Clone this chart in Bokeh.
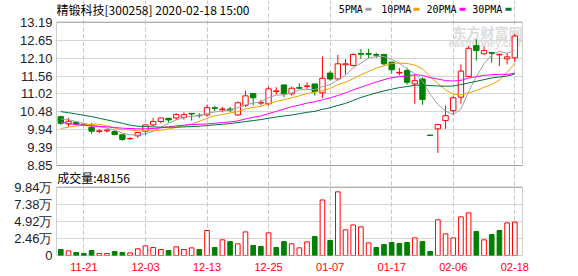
from bokeh.plotting import figure
from bokeh.models import (Range1d, FixedTicker, Label, BoxAnnotation, ColumnDataSource, Grid)
from bokeh.embed import file_html
from bokeh.resources import INLINE

stock_title = "精锻科技[300258] 2020-02-18 15:00"
vol_title = "成交量:48156"
ma_names = ["5PMA", "10PMA", "20PMA", "30PMA"]

dates = ["11-18", "11-19", "11-20", "11-21", "11-22", "11-25", "11-26", "11-27", "11-28", "11-29",
         "12-02", "12-03", "12-04", "12-05", "12-06", "12-09", "12-10", "12-11", "12-12", "12-13",
         "12-16", "12-17", "12-18", "12-19", "12-20", "12-23", "12-24", "12-25", "12-26", "12-27",
         "12-30", "12-31", "01-02", "01-03", "01-06", "01-07", "01-08", "01-09", "01-10", "01-13",
         "01-14", "01-15", "01-16", "01-17", "01-20", "01-21", "01-22", "01-23", "02-03", "02-04",
         "02-05", "02-06", "02-07", "02-10", "02-11", "02-12", "02-13", "02-14", "02-17", "02-18"]
shown_dates = ["11-21", "12-03", "12-13", "12-25", "01-07", "01-17", "02-06", "02-18"]

open_ = [10.33, 10.11, 10.16, 10.10, 10.01, 9.88, 9.90, 9.88, 9.78, 9.66,
         9.75, 9.89, 10.08, 10.18, 10.28, 10.29, 10.31, 10.43, 10.37, 10.38,
         10.60, 10.54, 10.56, 10.38, 10.67, 11.03, 10.74, 10.72, 11.09, 11.29,
         11.02, 11.21, 11.24, 11.32, 11.05, 11.65, 11.47, 11.90, 11.88, 12.24,
         12.24, 12.21, 12.21, 11.98, 11.65, 11.73, 11.32, 11.47, 9.77, 9.96,
         10.21, 10.51, 10.92, 11.55, 12.48, 12.23, 12.27, 12.20, 12.08, 12.11]
close = [10.13, 10.19, 10.11, 10.08, 9.89, 9.90, 9.92, 9.79, 9.64, 9.67,
         9.85, 10.08, 10.18, 10.29, 10.23, 10.39, 10.39, 10.41, 10.36, 10.60,
         10.58, 10.56, 10.53, 10.75, 10.96, 10.90, 10.76, 11.17, 11.11, 11.02,
         11.19, 11.19, 11.26, 11.09, 11.49, 11.47, 11.93, 11.93, 12.21, 12.22,
         12.22, 12.19, 11.93, 11.75, 11.67, 11.37, 11.42, 10.85, 9.76, 10.09,
         10.36, 10.90, 11.71, 12.40, 12.33, 12.33, 12.25, 12.22, 12.14, 12.77]
high = [10.36, 10.29, 10.20, 10.13, 10.14, 9.95, 9.95, 9.91, 9.78, 9.70,
        9.85, 10.10, 10.29, 10.29, 10.28, 10.43, 10.46, 10.43, 10.43, 10.69,
        10.65, 10.62, 10.62, 10.79, 11.12, 11.03, 10.84, 11.24, 11.22, 11.29,
        11.24, 11.34, 11.37, 11.32, 12.15, 11.71, 12.20, 12.07, 12.25, 12.38,
        12.38, 12.26, 12.23, 11.98, 11.80, 11.81, 11.59, 11.52, 9.77, 10.09,
        10.67, 10.97, 11.91, 12.46, 12.67, 12.46, 12.27, 12.22, 12.26, 12.84]
low = [10.08, 10.03, 10.07, 10.05, 9.81, 9.83, 9.85, 9.76, 9.60, 9.63,
       9.69, 9.77, 10.04, 10.13, 10.15, 10.23, 10.24, 10.21, 10.29, 10.33,
       10.50, 10.46, 10.46, 10.36, 10.62, 10.67, 10.67, 10.67, 11.00, 10.92,
       10.97, 11.17, 11.14, 10.97, 10.89, 11.42, 11.42, 11.61, 11.85, 12.08,
       12.10, 12.11, 11.88, 11.63, 11.58, 11.30, 10.72, 10.69, 9.75, 9.23,
       9.96, 10.38, 10.72, 11.55, 12.03, 12.23, 11.96, 11.86, 11.91, 11.98]

ma5 = [10.26, 10.24, 10.18, 10.12, 10.08, 10.03, 9.98, 9.92, 9.83, 9.78,
       9.77, 9.81, 9.88, 10.01, 10.13, 10.23, 10.30, 10.34, 10.36, 10.43,
       10.47, 10.50, 10.53, 10.60, 10.68, 10.74, 10.78, 10.91, 10.98, 10.99,
       11.05, 11.14, 11.15, 11.15, 11.24, 11.30, 11.45, 11.58, 11.81, 11.95,
       12.10, 12.15, 12.15, 12.06, 11.95, 11.78, 11.63, 11.41, 11.01, 10.70,
       10.50, 10.39, 10.56, 11.09, 11.54, 11.93, 12.20, 12.31, 12.25, 12.34]
ma10 = [9.97, 10.01, 10.05, 10.08, 10.10, 10.10, 10.05, 9.98, 9.93, 9.93,
        9.90, 9.90, 9.90, 9.92, 9.96, 10.00, 10.06, 10.11, 10.19, 10.28,
        10.35, 10.40, 10.44, 10.48, 10.56, 10.61, 10.64, 10.72, 10.79, 10.84,
        10.90, 10.96, 11.03, 11.07, 11.12, 11.18, 11.30, 11.37, 11.48, 11.60,
        11.70, 11.80, 11.87, 11.94, 11.95, 11.94, 11.89, 11.78, 11.54, 11.33,
        11.14, 11.01, 10.99, 11.05, 11.12, 11.22, 11.30, 11.44, 11.67, 11.94]
ma20 = [10.16, 10.12, 10.09, 10.07, 10.05, 10.03, 10.02, 10.00, 9.98, 9.97,
        9.96, 9.96, 9.97, 9.99, 10.02, 10.05, 10.07, 10.09, 10.10, 10.11,
        10.13, 10.15, 10.17, 10.20, 10.26, 10.31, 10.35, 10.42, 10.49, 10.56,
        10.63, 10.68, 10.74, 10.78, 10.84, 10.90, 10.97, 11.05, 11.14, 11.22,
        11.30, 11.38, 11.45, 11.51, 11.54, 11.56, 11.60, 11.58, 11.51, 11.47,
        11.42, 11.41, 11.43, 11.50, 11.54, 11.58, 11.60, 11.61, 11.61, 11.64]
ma30 = [10.48, 10.45, 10.41, 10.37, 10.33, 10.28, 10.23, 10.18, 10.13, 10.07,
        10.04, 10.03, 10.02, 10.01, 10.01, 10.01, 10.02, 10.03, 10.04, 10.06,
        10.08, 10.10, 10.12, 10.15, 10.18, 10.21, 10.24, 10.28, 10.32, 10.35,
        10.38, 10.42, 10.46, 10.49, 10.55, 10.60, 10.67, 10.73, 10.82, 10.91,
        10.98, 11.05, 11.11, 11.16, 11.21, 11.24, 11.28, 11.29, 11.27, 11.26,
        11.25, 11.26, 11.30, 11.35, 11.40, 11.45, 11.50, 11.53, 11.56, 11.62]

volume = [8600, 6700, 4300, 2900, 7200, 2900, 2900, 5800, 4300, 3800,
          9600, 13900, 11500, 8600, 7200, 12500, 8600, 11000, 8600, 36000,
          11500, 22600, 20000, 16800, 34000, 14400, 13000, 32600, 11500, 20000,
          16800, 11000, 19700, 27400, 80000, 21600, 91700, 37000, 44000, 41300,
          18200, 11500, 15800, 18700, 17300, 18700, 25400, 20000, 5800, 51400,
          31200, 25400, 55700, 61400, 34600, 22600, 30200, 36000, 47000, 48156]
vol_up = [0, 1, 0, 0, 0, 1, 1, 0, 0, 1,
          1, 1, 1, 1, 0, 1, 1, 1, 0, 1,
          0, 1, 0, 1, 1, 0, 0, 1, 0, 0,
          1, 1, 1, 0, 1, 0, 1, 1, 1, 1,
          1, 0, 0, 0, 0, 0, 1, 0, 0, 1,
          1, 1, 1, 1, 0, 1, 0, 0, 1, 1]

price_ticks = [8.85, 9.39, 9.94, 10.48, 11.02, 11.56, 12.10, 12.65, 13.19]
vol_ticks = [0, 24600, 49200, 73800, 98400]
vol_tick_labels = ["0", "2.46万", "4.92万", "7.38万", "9.84万"]

# ---- styling / layout constants ----
UP = "#ff0000"
DOWN = "#008000"
MA_COLORS = ["#a0a0a0", "#f2a100", "#ff00ff", "#00703c"]
GRID = "#d6d6d6"
FRAME = "#a0a0a0"
LABEL = "#20202e"

W, H = 578, 276
BORDER_L, BORDER_R, BORDER_B = 56, 56, 21
FRAME_H = H - BORDER_B                 # frame spans canvas y 0 .. 255
PRICE_TOP_Y, PRICE_BOT_Y = 21.7, 165.0  # canvas y of top / bottom of price box
VOL_TOP_Y, VOL_BOT_Y = 186.7, 255.0     # canvas y of top / bottom of volume box

N = len(dates)
xs = list(range(N))
label_idx = [dates.index(d) for d in shown_dates]

# price scale (default y range) stretched over the whole frame
p_lo, p_hi = price_ticks[0], price_ticks[-1]
ppu = (PRICE_BOT_Y - PRICE_TOP_Y) / (p_hi - p_lo)
p_start = p_lo - (FRAME_H - PRICE_BOT_Y) / ppu
p_end = p_hi + PRICE_TOP_Y / ppu
# volume scale (extra y range) stretched over the whole frame
v_lo, v_hi = vol_ticks[0], vol_ticks[-1]
vpu = (VOL_BOT_Y - VOL_TOP_Y) / (v_hi - v_lo)
v_end = v_lo + (FRAME_H - (FRAME_H - VOL_BOT_Y)) / vpu

is_up = [c >= o for o, c in zip(open_, close)]
src = ColumnDataSource(dict(
    x=xs, high=high, low=low,
    top=[max(o, c) for o, c in zip(open_, close)],
    bottom=[min(o, c) for o, c in zip(open_, close)],
    color=[UP if u else DOWN for u in is_up],
    fill=["#ffffff" if u else DOWN for u in is_up],
))
vsrc = ColumnDataSource(dict(
    x=xs, vol=volume,
    color=[UP if u else DOWN for u in vol_up],
    fill=["#ffffff" if u else DOWN for u in vol_up],
))

p = figure(width=W, height=H, x_range=Range1d(-0.56, N), y_range=Range1d(p_start, p_end),
           output_backend="svg", toolbar_location=None,
           min_border_left=BORDER_L, min_border_right=BORDER_R, min_border_top=0,
           min_border_bottom=BORDER_B)
p.extra_y_ranges = {"vol": Range1d(v_lo, v_end)}
p.background_fill_color = "white"
p.border_fill_color = "white"
p.outline_line_color = None

# one left axis carrying both the price and the volume tick labels
vol_tick_pos = [p_start + (t - v_lo) * vpu / ppu for t in vol_ticks]
axis_ticks = vol_tick_pos + price_ticks
overrides = {pos: lab for pos, lab in zip(vol_tick_pos, vol_tick_labels)}
overrides.update({t: f"{t:.2f}" for t in price_ticks})
yax = p.yaxis[0]
yax.ticker = FixedTicker(ticks=axis_ticks)
yax.major_label_overrides = overrides
yax.major_label_text_font = "Liberation Sans"
yax.major_label_text_font_size = "13px"
yax.major_label_text_color = LABEL
yax.major_label_standoff = 4

xax = p.xaxis[0]
xax.ticker = FixedTicker(ticks=label_idx)
xax.major_label_overrides = {i: dates[i] for i in label_idx}
xax.major_label_text_font = "Liberation Sans"
xax.major_label_text_font_size = "11px"
xax.major_label_text_color = "#ff0000"
xax.major_label_standoff = 7

for ax in p.axis:
    ax.axis_line_color = None
    ax.major_tick_line_color = None
    ax.minor_tick_line_color = None
    ax.major_tick_in = 0
    ax.major_tick_out = 0
    ax.minor_tick_in = 0
    ax.minor_tick_out = 0

p.ygrid.grid_line_color = GRID
p.xgrid.ticker = FixedTicker(ticks=label_idx)
p.xgrid.grid_line_color = "#c8c8c8"
p.xgrid.grid_line_dash = "4 3"
p.xgrid.bounds = (p_lo, p_hi)
p.add_layout(Grid(dimension=0, ticker=FixedTicker(ticks=label_idx), y_range_name="vol",
                  bounds=(v_lo, v_hi), grid_line_color="#c8c8c8", grid_line_dash="4 3"))

# panel boxes
p.add_layout(BoxAnnotation(bottom=p_lo, top=p_hi, fill_alpha=0, fill_color=None,
                           line_color=FRAME, line_alpha=1, line_width=1, level="underlay"))
p.add_layout(BoxAnnotation(bottom=v_lo, top=v_hi, y_range_name="vol", fill_alpha=0, fill_color=None,
                           line_color=FRAME, line_alpha=1, line_width=1, level="underlay"))

# watermark
p.add_layout(Label(x=396, y=FRAME_H - 31, x_units="screen", y_units="screen", text="东方财富网",
                   text_font="Noto Sans CJK SC", text_font_size="14px", text_font_style="bold",
                   text_color="#dcdcdc", text_baseline="middle", level="underlay"))
p.add_layout(Label(x=392, y=FRAME_H - 43, x_units="screen", y_units="screen", text="eastmoney.com",
                   text_font="Liberation Sans", text_font_size="10px", text_font_style="bold",
                   text_color="#dcdcdc", text_baseline="middle", level="underlay"))

# candles, moving averages, volume
p.segment(x0="x", y0="low", x1="x", y1="high", line_color="color", line_width=1, source=src)
p.vbar(x="x", width=0.7, top="top", bottom="bottom", fill_color="fill", line_color="color",
       line_width=1, source=src)
for series, col in zip([ma5, ma10, ma20, ma30], MA_COLORS):
    p.line(xs, series, line_color=col, line_width=1)
p.vbar(x="x", width=0.6, top="vol", bottom=0, fill_color="fill", line_color="color",
       line_width=1, source=vsrc, y_range_name="vol")

# title and legend
p.add_layout(Label(x=0, y=FRAME_H - 8.5, x_units="screen", y_units="screen", text=stock_title,
                   text_font="Noto Sans CJK SC", text_font_size="12px", text_color="#000000",
                   text_baseline="middle"))
text_x = [282.3, 324.7, 370.0, 415.7]
mark_x = [309, 357, 403, 449]
for name, col, tx, mx in zip(ma_names, MA_COLORS, text_x, mark_x):
    p.add_layout(Label(x=tx, y=FRAME_H - 8.7, x_units="screen", y_units="screen", text=name,
                       text_font="DejaVu Sans Mono", text_font_size="10px", text_color="#000000",
                       text_baseline="middle"))
    p.add_layout(BoxAnnotation(left=mx, right=mx + 6, bottom=FRAME_H - 10.3, top=FRAME_H - 7.3,
                               left_units="screen", right_units="screen",
                               bottom_units="screen", top_units="screen",
                               fill_color=col, fill_alpha=1, line_color=None))
# volume caption
p.add_layout(Label(x=0.7, y=FRAME_H - 177, x_units="screen", y_units="screen", text=vol_title,
                   text_font="Noto Sans CJK SC", text_font_size="12px", text_color="#000000",
                   text_baseline="middle"))

open("out.html", "w").write(file_html(p, INLINE))
